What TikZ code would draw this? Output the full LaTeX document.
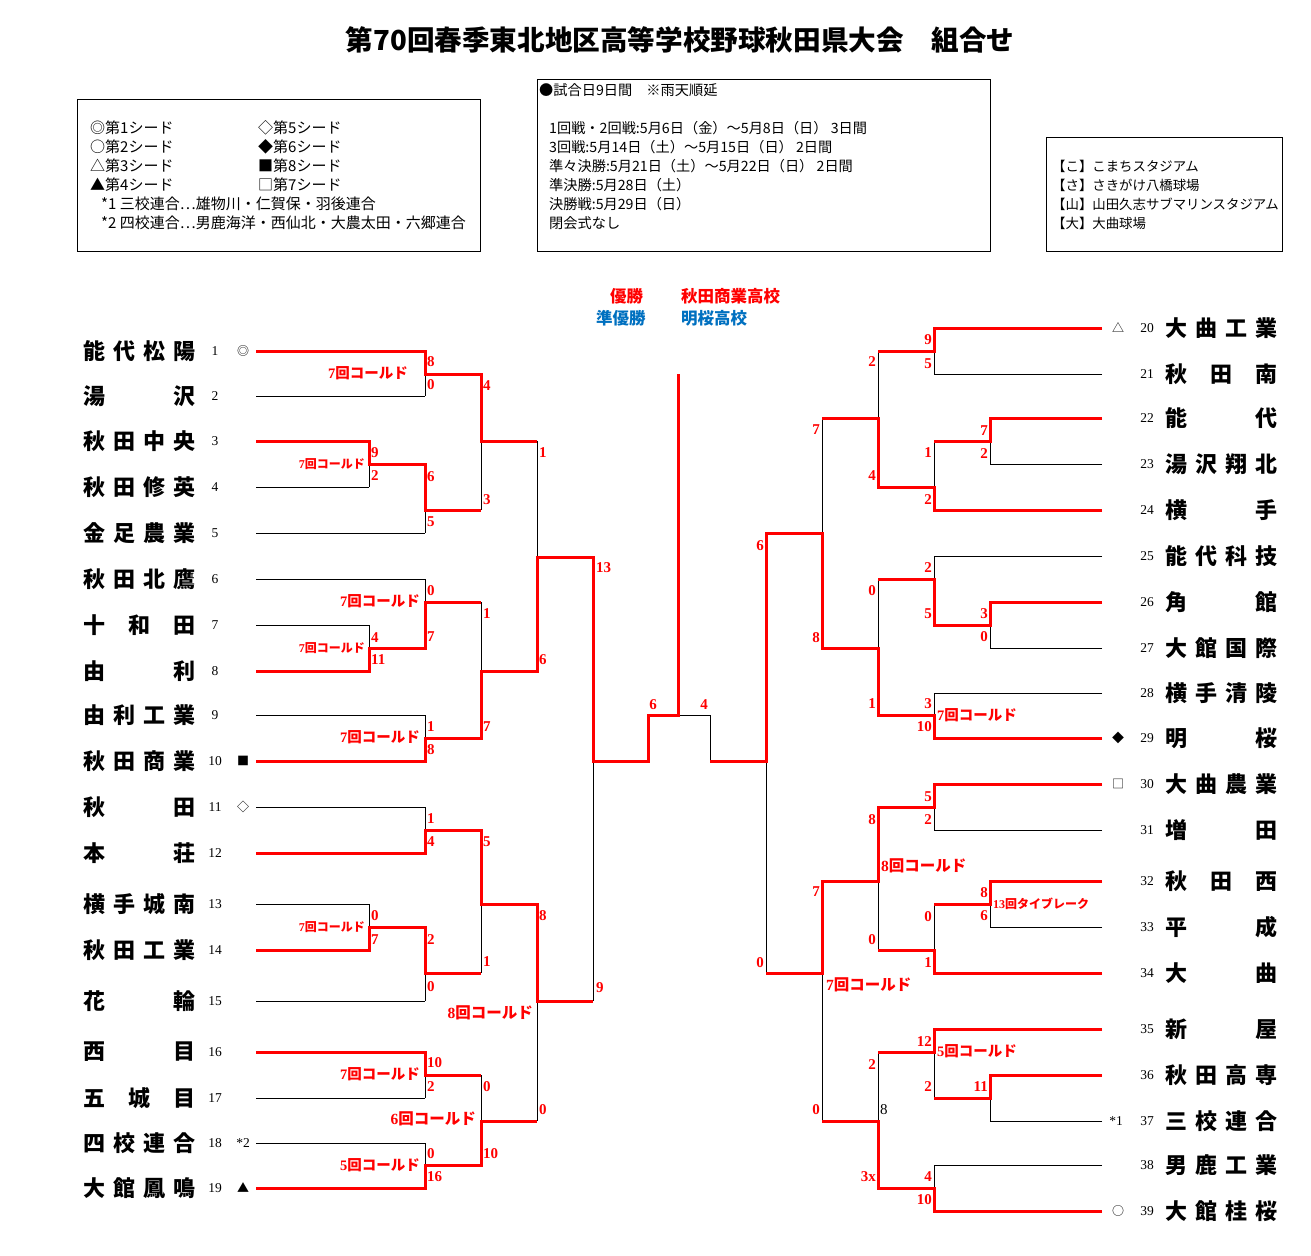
\documentclass[tikz,border=0pt]{standalone}
\usepackage{fontspec}
\newfontfamily\jp{Noto Sans CJK JP}
\newfontfamily\ser{Liberation Serif}
\definecolor{wred}{RGB}{255,0,0}
\definecolor{wblue}{RGB}{0,112,192}
\newcommand\tn[1]{\makebox[112pt][s]{#1}}
\newcommand\sv{{\ser 7}}
\begin{document}
\begin{tikzpicture}[x=1pt,y=-1pt,
 blk/.style={draw=black,line width=1pt},
 rd/.style={draw=wred,line width=3pt,line join=miter},
 tname/.style={inner sep=0,anchor=west,font=\jp\bfseries\fontsize{22}{22}\selectfont},
 tnum/.style={inner sep=0,font=\ser\fontsize{13.5}{13.5}\selectfont},
 sym/.style={inner sep=0,font=\jp\fontsize{12}{12}\selectfont},
 scL/.style={inner sep=0,anchor=west,text=wred,font=\ser\bfseries\fontsize{15}{15}\selectfont},
 scR/.style={inner sep=0,anchor=east,text=wred,font=\ser\bfseries\fontsize{15}{15}\selectfont},
 coldL/.style={inner sep=0,anchor=east,text=wred,font=\jp\bfseries\fontsize{14.5}{14.5}\selectfont},
 coldS/.style={inner sep=0,anchor=east,text=wred,font=\jp\bfseries\fontsize{12}{12}\selectfont},
 coldB/.style={inner sep=0,text=wred,font=\jp\bfseries\fontsize{15.5}{15.5}\selectfont},
 coldR/.style={inner sep=0,anchor=west,text=wred,font=\jp\bfseries\fontsize{14.5}{14.5}\selectfont},
 leg/.style={inner sep=0,anchor=west,font=\jp\fontsize{15}{15}\selectfont},
 leg2/.style={inner sep=0,anchor=west,font=\jp\fontsize{14.2}{14.2}\selectfont},
 leg3/.style={inner sep=0,anchor=west,font=\jp\fontsize{13.4}{13.4}\selectfont},
 box/.style={draw=black,line width=1pt},
 win/.style={inner sep=0,anchor=west,font=\jp\bfseries\fontsize{16.5}{16.5}\selectfont},
]
\fill[white] (0,0) rectangle (1311,1255);
\useasboundingbox (0,0) rectangle (1311,1255);

% title
\node[inner sep=0,font=\jp\bfseries\fontsize{27.6}{27.6}\selectfont] (title) at (680,40) {第70回春季東北地区高等学校野球秋田県大会　組合せ};

% legend boxes
\draw[box] (77,99) rectangle (480,251);
\node[leg] (l1) at (90,128) {◎第1シード};
\node[leg] (l2) at (90,147) {○第2シード};
\node[leg] (l3) at (90,166) {△第3シード};
\node[leg] (l4) at (90,185) {▲第4シード};
\node[leg] (l5) at (258,128) {◇第5シード};
\node[leg] (l6) at (258,147) {◆第6シード};
\node[leg] (l7) at (258,166) {■第8シード};
\node[leg] (l8) at (258,185) {□第7シード};
\node[leg] (l9) at (101,204) {*1 三校連合…雄物川・仁賀保・羽後連合};
\node[leg] (l10) at (101,223) {*2 四校連合…男鹿海洋・西仙北・大農太田・六郷連合};

\draw[box] (537,79) rectangle (990,251);
\node[leg2] (s1) at (539,90) {●試合日9日間　※雨天順延};
\node[leg2] (s2) at (549,128) {1回戦・2回戦:5月6日（金）～5月8日（日） 3日間};
\node[leg2] (s3) at (549,147) {3回戦:5月14日（土）～5月15日（日） 2日間};
\node[leg2] (s4) at (549,166) {準々決勝:5月21日（土）～5月22日（日） 2日間};
\node[leg2] (s5) at (549,185) {準決勝:5月28日（土）};
\node[leg2] (s6) at (549,204) {決勝戦:5月29日（日）};
\node[leg2] (s7) at (549,223) {閉会式なし};

\draw[box] (1046,137) rectangle (1282,251);
\node[leg3] (v1) at (1052,166) {【こ】こまちスタジアム};
\node[leg3] (v2) at (1052,185) {【さ】さきがけ八橋球場};
\node[leg3] (v3) at (1052,204) {【山】山田久志サブマリンスタジアム};
\node[leg3] (v4) at (1052,223) {【大】大曲球場};

% winners
\node[win,text=wred] (w1) at (610,296) {優勝};
\node[win,text=wred] (w2) at (681,296) {秋田商業高校};
\node[win,text=wblue] (w3) at (596,318) {準優勝};
\node[win,text=wblue] (w4) at (681,318) {明桜高校};

% ---------- left teams
\node[tname] (t1) at (83,351) {\tn{能\hfill 代\hfill 松\hfill 陽}};
\node[tname] (t2) at (83,396) {\tn{湯\hfill 沢}};
\node[tname] (t3) at (83,441) {\tn{秋\hfill 田\hfill 中\hfill 央}};
\node[tname] (t4) at (83,487) {\tn{秋\hfill 田\hfill 修\hfill 英}};
\node[tname] (t5) at (83,533) {\tn{金\hfill 足\hfill 農\hfill 業}};
\node[tname] (t6) at (83,579) {\tn{秋\hfill 田\hfill 北\hfill 鷹}};
\node[tname] (t7) at (83,625) {\tn{十\hfill 和\hfill 田}};
\node[tname] (t8) at (83,671) {\tn{由\hfill 利}};
\node[tname] (t9) at (83,715) {\tn{由\hfill 利\hfill 工\hfill 業}};
\node[tname] (t10) at (83,761) {\tn{秋\hfill 田\hfill 商\hfill 業}};
\node[tname] (t11) at (83,807) {\tn{秋\hfill 田}};
\node[tname] (t12) at (83,853) {\tn{本\hfill 荘}};
\node[tname] (t13) at (83,904) {\tn{横\hfill 手\hfill 城\hfill 南}};
\node[tname] (t14) at (83,950) {\tn{秋\hfill 田\hfill 工\hfill 業}};
\node[tname] (t15) at (83,1001) {\tn{花\hfill 輪}};
\node[tname] (t16) at (83,1052) {\tn{西\hfill 目}};
\node[tname] (t17) at (83,1098) {\tn{五\hfill 城\hfill 目}};
\node[tname] (t18) at (83,1143) {\tn{四\hfill 校\hfill 連\hfill 合}};
\node[tname] (t19) at (83,1188) {\tn{大\hfill 館\hfill 鳳\hfill 鳴}};
\foreach \n/\y in {1/351,2/396,3/441,4/487,5/533,6/579,7/625,8/671,9/715,10/761,11/807,12/853,13/904,14/950,15/1001,16/1052,17/1098,18/1143,19/1188}
  \node[tnum] (u\n) at (215,\y) {\n};
\node[sym] (m1) at (243,351) {◎};
\node[sym] (m10) at (243,761) {■};
\node[sym] (m11) at (243,807) {◇};
\node[tnum] (m18) at (243,1143) {*2};
\node[sym] (m19) at (243,1188) {▲};

% ---------- right teams
\node[tname] (t20) at (1165,328) {\tn{大\hfill 曲\hfill 工\hfill 業}};
\node[tname] (t21) at (1165,374) {\tn{秋\hfill 田\hfill 南}};
\node[tname] (t22) at (1165,418) {\tn{能\hfill 代}};
\node[tname] (t23) at (1165,464) {\tn{湯\hfill 沢\hfill 翔\hfill 北}};
\node[tname] (t24) at (1165,510) {\tn{横\hfill 手}};
\node[tname] (t25) at (1165,556) {\tn{能\hfill 代\hfill 科\hfill 技}};
\node[tname] (t26) at (1165,602) {\tn{角\hfill 館}};
\node[tname] (t27) at (1165,648) {\tn{大\hfill 館\hfill 国\hfill 際}};
\node[tname] (t28) at (1165,693) {\tn{横\hfill 手\hfill 清\hfill 陵}};
\node[tname] (t29) at (1165,738) {\tn{明\hfill 桜}};
\node[tname] (t30) at (1165,784) {\tn{大\hfill 曲\hfill 農\hfill 業}};
\node[tname] (t31) at (1165,830) {\tn{増\hfill 田}};
\node[tname] (t32) at (1165,881) {\tn{秋\hfill 田\hfill 西}};
\node[tname] (t33) at (1165,927) {\tn{平\hfill 成}};
\node[tname] (t34) at (1165,973) {\tn{大\hfill 曲}};
\node[tname] (t35) at (1165,1029) {\tn{新\hfill 屋}};
\node[tname] (t36) at (1165,1075) {\tn{秋\hfill 田\hfill 高\hfill 専}};
\node[tname] (t37) at (1165,1121) {\tn{三\hfill 校\hfill 連\hfill 合}};
\node[tname] (t38) at (1165,1165) {\tn{男\hfill 鹿\hfill 工\hfill 業}};
\node[tname] (t39) at (1165,1211) {\tn{大\hfill 館\hfill 桂\hfill 桜}};
\foreach \n/\y in {20/328,21/374,22/418,23/464,24/510,25/556,26/602,27/648,28/693,29/738,30/784,31/830,32/881,33/927,34/973,35/1029,36/1075,37/1121,38/1165,39/1211}
  \node[tnum] (u\n) at (1147,\y) {\n};
\node[sym] (m20) at (1118,328) {△};
\node[sym] (m29) at (1118,738) {◆};
\node[sym] (m30) at (1118,784) {□};
\node[tnum] (m37) at (1116,1121) {*1};
\node[sym] (m39) at (1118,1211) {○};

% ---------- black bracket, left
\foreach \y/\x in {351/425,396/425,441/369,487/369,533/425,579/425,625/369,671/369,715/425,761/425,807/425,853/425,904/369,950/369,1001/425,1052/425,1098/425,1143/425,1188/425}
  \draw[blk] (256,\y) -- (\x,\y);
\foreach \xv/\ya/\yb/\yo/\xo in {425/351/396/374/481, 369/441/487/464/425, 425/464/533/510/481, 481/374/510/441/537,
  369/625/671/648/425, 425/579/648/602/481, 425/715/761/738/481, 481/602/738/671/537, 537/441/671/557/593,
  425/807/853/830/481, 369/904/950/927/425, 425/927/1001/973/481, 481/830/973/904/537,
  425/1052/1098/1075/481, 425/1143/1188/1165/481, 481/1075/1165/1121/537, 537/904/1121/1001/593,
  593/557/1001/761/648}
  \draw[blk] (\xv,\ya) -- (\xv,\yb) (\xv,\yo) -- (\xo,\yo);
% right
\foreach \y/\x in {328/934,374/934,418/990,464/990,510/934,556/934,602/990,648/990,693/934,738/934,784/934,830/934,881/990,927/990,973/934,1029/934,1075/990,1121/990,1165/934,1211/934}
  \draw[blk] (1102,\y) -- (\x,\y);
\foreach \xv/\ya/\yb/\yo/\xo in {934/328/374/351/878, 990/418/464/441/934, 934/441/510/487/878, 878/351/487/418/822,
  990/602/648/625/934, 934/556/625/579/878, 934/693/738/715/878, 878/579/715/648/822, 822/418/648/533/766,
  934/784/830/807/878, 990/881/927/904/934, 934/904/973/950/878, 878/807/950/881/822,
  990/1075/1121/1098/934, 934/1029/1098/1052/878, 934/1165/1211/1188/878, 878/1052/1188/1121/822, 822/881/1121/973/766,
  766/533/973/761/710}
  \draw[blk] (\xv,\ya) -- (\xv,\yb) (\xv,\yo) -- (\xo,\yo);
% final
\draw[blk] (648,761) -- (648,715) -- (710,715) -- (710,761);

% ---------- red winner paths, left
\draw[rd] (256,351) -- (425,351) -- (425,374) -- (481,374) -- (481,441) -- (537,441);
\draw[rd] (256,441) -- (369,441) -- (369,464) -- (425,464) -- (425,510) -- (481,510);
\draw[rd] (256,671) -- (369,671) -- (369,648) -- (425,648) -- (425,602) -- (481,602);
\draw[rd] (256,761) -- (425,761) -- (425,738) -- (481,738) -- (481,671) -- (537,671) -- (537,557) -- (593,557) -- (593,761) -- (648,761) -- (648,715) -- (678,715) -- (678,374);
\draw[rd] (256,853) -- (425,853) -- (425,830) -- (481,830) -- (481,904) -- (537,904) -- (537,1001) -- (593,1001);
\draw[rd] (256,950) -- (369,950) -- (369,927) -- (425,927) -- (425,973) -- (481,973);
\draw[rd] (256,1052) -- (425,1052) -- (425,1075) -- (481,1075);
\draw[rd] (256,1188) -- (425,1188) -- (425,1165) -- (481,1165) -- (481,1121) -- (537,1121);
% right
\draw[rd] (1102,328) -- (934,328) -- (934,351) -- (878,351);
\draw[rd] (1102,418) -- (990,418) -- (990,441) -- (934,441);
\draw[rd] (1102,510) -- (934,510) -- (934,487) -- (878,487) -- (878,418) -- (822,418);
\draw[rd] (1102,602) -- (990,602) -- (990,625) -- (934,625) -- (934,579) -- (878,579);
\draw[rd] (1102,738) -- (934,738) -- (934,715) -- (878,715) -- (878,648) -- (822,648) -- (822,533) -- (766,533) -- (766,761) -- (710,761);
\draw[rd] (1102,784) -- (934,784) -- (934,807) -- (878,807) -- (878,881) -- (822,881) -- (822,973) -- (766,973);
\draw[rd] (1102,881) -- (990,881) -- (990,904) -- (934,904);
\draw[rd] (1102,973) -- (934,973) -- (934,950) -- (878,950);
\draw[rd] (1102,1029) -- (934,1029) -- (934,1052) -- (878,1052);
\draw[rd] (1102,1075) -- (990,1075) -- (990,1098) -- (934,1098);
\draw[rd] (1102,1211) -- (934,1211) -- (934,1188) -- (878,1188) -- (878,1121) -- (822,1121);

% ---------- scores left
\foreach \x/\y/\s in {427/362/8, 427/385/0, 371/453/9, 371/476/2, 427/477/6, 427/522/5, 483/386/4, 483/500/3,
  371/638/4, 371/660/11, 427/591/0, 427/637/7, 427/727/1, 427/750/8, 483/614/1, 483/727/7, 539/453/1, 539/660/6,
  596/568/13, 596/988/9,
  427/819/1, 427/842/4, 371/916/0, 371/940/7, 427/940/2, 427/987/0, 483/842/5, 483/962/1,
  427/1063/10, 427/1087/2, 427/1154/0, 427/1177/16, 483/1087/0, 483/1154/10, 539/916/8, 539/1110/0}
  \node[scL] at (\x,\y) {\s};
% scores right
\foreach \x/\y/\s in {932/340/9, 932/364/5, 988/431/7, 988/454/2, 932/453/1, 932/500/2, 876/362/2, 876/476/4,
  988/614/3, 988/637/0, 932/568/2, 932/614/5, 932/704/3, 932/727/10, 876/591/0, 876/704/1, 820/430/7, 820/638/8,
  764/546/6, 764/963/0,
  932/797/5, 932/820/2, 988/893/8, 988/916/6, 932/917/0, 932/963/1, 876/820/8, 876/940/0,
  988/1087/11, 932/1042/12, 932/1087/2, 932/1177/4, 932/1200/10, 876/1065/2, 876/1177/3x, 820/892/7, 820/1110/0}
  \node[scR] at (\x,\y) {\s};
\node[inner sep=0,anchor=west,font=\ser\fontsize{15}{15}\selectfont] (q8) at (880,1110) {8};
% final scores
\node[inner sep=0,text=wred,font=\ser\bfseries\fontsize{15}{15}\selectfont] (f6) at (653,705) {6};
\node[inner sep=0,text=wred,font=\ser\bfseries\fontsize{15}{15}\selectfont] (f4) at (704,705) {4};

% ---------- cold labels
\node[coldL] (cA) at (408,373) {\sv 回コールド};
\node[coldS] (cB) at (365,464) {\sv 回コールド};
\node[coldL] (cF) at (420,601) {\sv 回コールド};
\node[coldS] (cE) at (365,648) {\sv 回コールド};
\node[coldL] (cG) at (420,737) {\sv 回コールド};
\node[coldS] (cL) at (365,927) {\sv 回コールド};
\node[coldL] (cO) at (420,1074) {\sv 回コールド};
\node[coldL] (cP) at (420,1165) {{\ser 5}回コールド};
\node[coldB,anchor=east] (cQ) at (476,1119) {{\ser 6}回コールド};
\node[coldB,anchor=east] (cR) at (533,1013) {{\ser 8}回コールド};
\node[coldR] (cg) at (937,715) {\sv 回コールド};
\node[inner sep=0,anchor=west,text=wred,font=\jp\bfseries\fontsize{12}{12}\selectfont] (ck) at (993,904) {{\ser 13}回タイブレーク};
\node[coldB,anchor=west] (cm) at (881,866) {{\ser 8}回コールド};
\node[coldR] (co) at (937,1051) {{\ser 5}回コールド};
\node[coldB,anchor=west] (cr) at (826,985) {\sv 回コールド};
\end{tikzpicture}
\end{document}
